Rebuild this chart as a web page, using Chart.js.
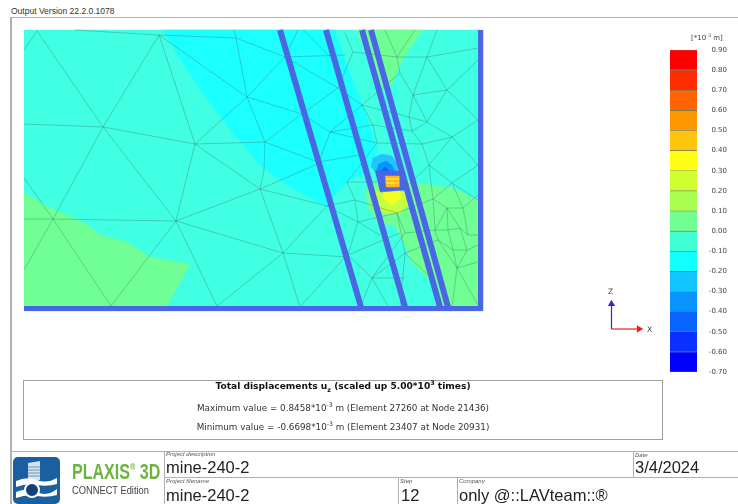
<!DOCTYPE html>
<html>
<head>
<meta charset="utf-8">
<title>mine-240-2</title>
<script src="https://cdn.jsdelivr.net/npm/chart.js@4"></script>
<style>
html, body { margin: 0; padding: 0; background: #fff; }
#page { position: relative; width: 738px; height: 504px; overflow: hidden; color: #222; font-family: "Liberation Sans", Arial, sans-serif; }
#page div { position: absolute; white-space: nowrap; }
canvas { position: absolute; left: 0; top: 0; filter: blur(0.35px); }
.rule { background: #b0b0b0; }
.cap { font-size: 6px; font-style: italic; color: #555; }
.big { font-size: 16.5px; color: #222; line-height: 18px; }
.res { left: 24px; width: 638px; text-align: center; font-family: "DejaVu Sans", sans-serif; font-size: 8.8px; color: #333; }
sup { font-size: 70%; line-height: 0; }
sub { font-size: 70%; line-height: 0; }
</style>
</head>
<body>
<div id="page">
  <div style="left:11px;top:6px;font-size:8.5px;color:#333">Output Version 22.2.0.1078</div>
  <div class="rule" style="left:10px;top:17px;width:728px;height:1px"></div>
  <div class="rule" style="left:10px;top:17px;width:2px;height:487px"></div>
  <div class="rule" style="left:10px;top:451px;width:728px;height:1px"></div>
  <div class="rule" style="left:164px;top:451px;width:1px;height:53px"></div>
  <div class="rule" style="left:164px;top:477px;width:574px;height:1px"></div>
  <div class="rule" style="left:633px;top:451px;width:1px;height:26px"></div>
  <div class="rule" style="left:398px;top:477px;width:1px;height:27px"></div>
  <div class="rule" style="left:457px;top:477px;width:1px;height:27px"></div>

  <canvas id="model" width="738" height="504"></canvas>
  <canvas id="scale" width="78" height="352" style="left:660px;top:30px"></canvas>

  <div style="left:691px;top:34px;font-family:'DejaVu Sans',sans-serif;font-size:7px;color:#444">[*10<sup>-3</sup> m]</div>
  <div style="left:608px;top:287px;font-family:'DejaVu Sans',sans-serif;font-size:7.5px;color:#444">Z</div>
  <div style="left:647px;top:325px;font-family:'DejaVu Sans',sans-serif;font-size:7.5px;color:#444">X</div>

  <div style="left:23px;top:380px;width:638px;height:58px;border:1px solid #a0a0a0"></div>
  <div class="res" style="top:381px;font-weight:bold;font-size:9.1px;color:#111">Total displacements u<sub>z</sub> (scaled up 5.00*10<sup>3</sup> times)</div>
  <div class="res" style="top:403px">Maximum value = 0.8458*10<sup>-3</sup> m (Element 27260 at Node 21436)</div>
  <div class="res" style="top:422px">Minimum value = -0.6698*10<sup>-3</sup> m (Element 23407 at Node 20931)</div>

  <svg style="position:absolute;left:13px;top:457px" width="48" height="47" viewBox="0 0 48 47">
    <rect x="0" y="0" width="47" height="47" rx="5" fill="#1a5f9f"/>
    <path d="M15 6 L27 4 L27 23 L15 23 Z" fill="#d5e3ef"/>
    <path d="M15 10 H27 M15 13 H27 M15 16 H27 M15 19 H27" stroke="#6d93b8" stroke-width="1"/>
    <path d="M3 24 Q14 19 24 23 T44 21 L44 27 Q34 30 24 28 T3 30 Z" fill="#fff"/>
    <path d="M3 35 Q14 30 24 35 T44 32 L44 38 Q34 41 24 39 T3 41 Z" fill="#fff"/>
    <circle cx="19" cy="33" r="7" fill="#123f75" stroke="#fff" stroke-width="2"/>
  </svg>
  <div style="left:72px;top:459px;font-family:'Liberation Sans',sans-serif;font-weight:bold;font-size:22px;color:#6cb33f;transform:scaleX(0.73);transform-origin:left top">PLAXIS<sup style="font-size:45%;vertical-align:9px">®</sup> 3D</div>
  <div style="left:72px;top:484px;font-family:'Liberation Sans',sans-serif;font-size:11.5px;color:#444;transform:scaleX(0.81);transform-origin:left top">CONNECT Edition</div>

  <div class="cap" style="left:166px;top:451px">Project description</div>
  <div class="big" style="left:166px;top:458px">mine-240-2</div>
  <div class="cap" style="left:166px;top:478px">Project filename</div>
  <div class="big" style="left:166px;top:486px">mine-240-2</div>
  <div class="cap" style="left:635px;top:452px">Date</div>
  <div class="big" style="left:635px;top:458px">3/4/2024</div>
  <div class="cap" style="left:400px;top:478px">Step</div>
  <div class="big" style="left:401px;top:486px">12</div>
  <div class="cap" style="left:459px;top:478px">Company</div>
  <div class="big" style="left:459px;top:486px">only @::LAVteam::®</div>
</div>

<script>
// colour scale, top band first
const scaleTicks = [0.9, 0.8, 0.7, 0.6, 0.5, 0.4, 0.3, 0.2, 0.1, 0, -0.1, -0.2, -0.3, -0.4, -0.5, -0.6, -0.7];
const bandColors = ['#ff0000', '#ff2c00', '#ff6400', '#ff9800', '#ffc40c', '#ffff14', '#d0ff30', '#a8ff50',
    '#70ff90', '#40ffd4', '#12ffff', '#12c4ff', '#0a94ff', '#0a64ff', '#0a30ff', '#0000ff'];

// contour regions
const regionBase = [[24, 30], [483, 30], [483, 311], [24, 311]];
const regionCyan = [[163, 30], [335, 30], [345, 60], [363, 107], [378, 150], [368, 170], [350, 180], [335, 195], [327, 207], [287, 185], [262, 167], [233, 133], [200, 90], [172, 45]];
const regionTopGreen = [[357, 30], [423, 30], [405, 55], [390, 87], [380, 88], [368, 60]];
const regionLeftGreen = [[24, 193], [55, 210], [83, 222], [100, 235], [127, 242], [150, 257], [190, 264], [167, 306], [24, 306]];
const regionRightGreen = [[382, 178], [365, 190], [368, 208], [378, 222], [395, 226], [405, 245], [412, 263], [430, 280], [440, 306], [478, 306], [478, 200], [453, 188], [417, 183], [405, 180]];
const regionLime = [[375, 190], [372, 205], [385, 213], [400, 213], [408, 205], [405, 192]];
const regionYellow = [[384, 190], [383, 198], [392, 205], [401, 198], [400, 190]];
const regionBlue1 = [[371, 167], [373, 158], [382, 154], [392, 156], [397, 164], [397, 172], [375, 172]];
const regionBlue2 = [[376, 172], [379, 164], [386, 161], [392, 165], [395, 172]];
const regionBlue3 = [[380, 172], [385, 167], [391, 172]];
const boxOuter = [[375, 171], [403, 171], [405, 190], [380, 192]];
const boxInner = [[385, 176], [399, 176], [399, 187], [386, 187]];
const boxStripes = [[[386, 179], [399, 179]], [[386, 183], [399, 183]]];

// plates and the base of the model
const slopedPlates = [
    [[280, 30], [361, 307]],
    [[326, 30], [405, 307]],
    [[362, 30], [440, 307]],
    [[371, 30], [448, 307]]
];
const edgePlates = [
    [[480.5, 30], [480.5, 311]],
    [[24, 308.5], [483, 308.5]]
];

// mesh edges
const meshEdges = [
    [[37, 31], [103, 127]], [[24, 50], [37, 31]], [[159, 35], [103, 127]], [[159, 35], [195, 144]], [[103, 127], [195, 144]],
    [[24, 124], [103, 127]], [[75, 30], [159, 35]], [[159, 35], [236, 38]], [[159, 35], [247, 97]], [[236, 38], [247, 97]],
    [[195, 144], [247, 97]], [[195, 144], [265, 142]], [[103, 127], [53, 219]], [[103, 127], [176, 221]], [[195, 144], [176, 221]],
    [[195, 144], [260, 189]], [[24, 219], [53, 219]], [[53, 219], [176, 221]], [[53, 219], [111, 306]], [[176, 221], [111, 306]],
    [[176, 221], [217, 306]], [[176, 221], [260, 189]], [[176, 221], [283, 253]], [[24, 178], [53, 219]], [[53, 219], [24, 270]],
    [[217, 306], [283, 253]], [[236, 38], [285, 57]], [[236, 38], [234, 30]], [[247, 97], [285, 57]], [[285, 57], [298, 30]],
    [[285, 57], [338, 88]], [[285, 57], [345, 55]], [[303, 30], [330, 57]], [[247, 97], [302, 114]], [[302, 114], [338, 88]],
    [[247, 97], [265, 142]], [[302, 114], [265, 142]], [[265, 142], [264, 170]], [[265, 142], [318, 162]], [[302, 114], [330, 132]],
    [[330, 132], [362, 105]], [[330, 132], [373, 125]], [[330, 132], [318, 165]], [[330, 132], [377, 143]], [[318, 162], [360, 155]],
    [[264, 170], [260, 189]], [[260, 189], [320, 163]], [[260, 189], [327, 206]], [[260, 189], [283, 253]], [[283, 253], [300, 307]],
    [[283, 253], [348, 257]], [[300, 307], [347, 255]], [[283, 253], [327, 206]], [[327, 206], [358, 222]], [[327, 206], [355, 200]],
    [[355, 200], [347, 182]], [[355, 200], [358, 222]], [[358, 222], [348, 255]], [[348, 255], [400, 233]], [[348, 255], [372, 278]],
    [[372, 278], [360, 308]], [[372, 278], [405, 278]], [[358, 222], [380, 235]], [[347, 182], [377, 182]], [[347, 182], [377, 143]],
    [[345, 33], [353, 52]], [[353, 52], [397, 57]], [[397, 57], [385, 30]], [[397, 57], [415, 30]], [[397, 57], [400, 73]],
    [[397, 57], [427, 57]], [[427, 57], [437, 30]], [[427, 57], [478, 48]], [[427, 57], [447, 90]], [[427, 57], [413, 95]],
    [[400, 73], [413, 95]], [[413, 95], [447, 90]], [[447, 90], [478, 60]], [[447, 90], [478, 120]], [[447, 90], [427, 122]],
    [[413, 95], [427, 122]], [[413, 95], [409, 117]], [[409, 117], [427, 122]], [[409, 117], [412, 131]], [[412, 131], [427, 122]],
    [[412, 131], [422, 144]], [[427, 122], [452, 137]], [[422, 144], [452, 137]], [[452, 137], [478, 120]], [[452, 137], [478, 165]],
    [[452, 137], [429, 165]], [[422, 144], [429, 165]], [[400, 73], [362, 105]], [[362, 105], [338, 88]], [[362, 105], [373, 125]],
    [[373, 125], [377, 143]], [[353, 52], [338, 88]], [[373, 125], [412, 131]], [[377, 143], [422, 144]], [[362, 105], [409, 117]],
    [[429, 165], [452, 183]], [[452, 183], [478, 165]], [[452, 183], [478, 200]], [[452, 183], [433, 199]], [[452, 183], [463, 208]],
    [[429, 165], [433, 199]], [[433, 199], [447, 208]], [[447, 208], [463, 208]], [[463, 208], [478, 195]], [[463, 208], [468, 235]],
    [[447, 208], [448, 230]], [[447, 208], [460, 228]], [[448, 230], [460, 228]], [[460, 228], [468, 235]], [[460, 228], [467, 250]],
    [[448, 230], [453, 250]], [[453, 250], [467, 250]], [[467, 250], [478, 245]], [[468, 235], [478, 235]], [[435, 230], [448, 230]],
    [[435, 230], [447, 208]], [[435, 230], [438, 240]], [[438, 240], [453, 250]], [[435, 230], [433, 199]], [[453, 250], [457, 268]],
    [[467, 250], [457, 268]], [[457, 268], [478, 305]], [[457, 268], [478, 262]], [[457, 268], [452, 307]], [[457, 268], [438, 240]],
    [[405, 253], [397, 213]], [[397, 213], [405, 233]], [[397, 213], [358, 222]], [[405, 233], [372, 278]], [[405, 233], [435, 230]],
    [[405, 253], [372, 278]], [[405, 253], [400, 307]], [[405, 253], [435, 282]], [[355, 200], [397, 213]], [[433, 199], [397, 213]],
    [[429, 165], [403, 190]], [[405, 253], [438, 240]], [[372, 278], [388, 306]]
];

// triad
const axisZ = [[611.5, 329], [611.5, 304]];
const axisX = [[611.5, 329], [639, 329]];

function pts(list) {
    return list.map(p => ({ x: p[0], y: p[1] }));
}

function region(list, color) {
    return { data: pts(list), backgroundColor: color, borderColor: color, borderWidth: 0.5, fill: 'shape', showLine: true, pointRadius: 0 };
}

function line(list, color, width) {
    return { data: list, borderColor: color, borderWidth: width, fill: false, showLine: true, pointRadius: 0, borderCapStyle: 'butt' };
}

function arrow(list, color, angle) {
    return {
        data: pts(list), borderColor: color, backgroundColor: color, borderWidth: 1.2, showLine: true,
        pointStyle: 'triangle', pointRadius: [0, 3], pointRotation: angle
    };
}

let meshData = [];
meshEdges.forEach(e => {
    meshData.push(...pts(e));
    meshData.push({ x: null, y: null });
});

// painted bottom up, chart.js draws the first dataset last
let layers = [
    region(regionBase, '#40ffe2'),
    region(regionCyan, '#1cffff'),
    region(regionTopGreen, '#70ff94'),
    region(regionLeftGreen, '#70ff94'),
    region(regionRightGreen, '#70ff94'),
    region(regionLime, '#c4ff40'),
    region(regionYellow, '#f4ff20'),
    region(regionBlue1, '#22c4ff'),
    region(regionBlue2, '#0a94ff'),
    region(regionBlue3, '#0a60ff'),
    line(meshData, 'rgba(60,110,105,0.5)', 0.7)
];
slopedPlates.forEach(p => layers.push(line(pts(p), '#4a66e4', 6)));
edgePlates.forEach(p => layers.push(line(pts(p), '#4a66e4', 5)));
layers.push(region(boxOuter, '#4a66e4'));
layers.push(region(boxInner, '#ffb818'));
boxStripes.forEach(s => layers.push(line(pts(s), '#ffe850', 1.2)));
layers.push(arrow(axisZ, '#2a2ae0', 0));
layers.push(arrow(axisX, '#e82020', 90));
layers.reverse();

new Chart(document.getElementById('model'), {
    type: 'scatter',
    data: { datasets: layers },
    options: {
        responsive: false,
        animation: false,
        layout: { padding: 0, autoPadding: false },
        plugins: { legend: { display: false }, tooltip: { enabled: false } },
        scales: {
            x: { type: 'linear', display: false, min: 0, max: 738 },
            y: { type: 'linear', display: false, min: 0, max: 504, reverse: true }
        }
    }
});

// one floating bar per band, top band first
let bands = bandColors.map((color, i) => ({
    data: [[scaleTicks[i + 1], scaleTicks[i]]],
    backgroundColor: color,
    borderColor: 'rgba(40,60,20,0.55)',
    borderWidth: { top: 0.6, bottom: 0.6, left: 0, right: 0 },
    borderSkipped: false,
    grouped: false,
    barPercentage: 1,
    categoryPercentage: 1
}));

new Chart(document.getElementById('scale'), {
    type: 'bar',
    data: { labels: ['uz'], datasets: bands },
    options: {
        responsive: false,
        animation: false,
        layout: { padding: { left: 10, right: 11, top: 20, bottom: 10 } },
        plugins: { legend: { display: false }, tooltip: { enabled: false } },
        scales: {
            x: { display: false },
            y: {
                position: 'right',
                min: -0.7,
                max: 0.9,
                afterFit: (axis) => { axis.width = 30; },
                grid: { display: false, drawTicks: false },
                border: { display: false },
                ticks: {
                    stepSize: 0.1,
                    crossAlign: 'far',
                    padding: 0,
                    color: '#444',
                    font: { family: 'DejaVu Sans', size: 7 },
                    callback: (value) => Number(value).toFixed(2)
                }
            }
        }
    }
});
</script>
</body>
</html>
